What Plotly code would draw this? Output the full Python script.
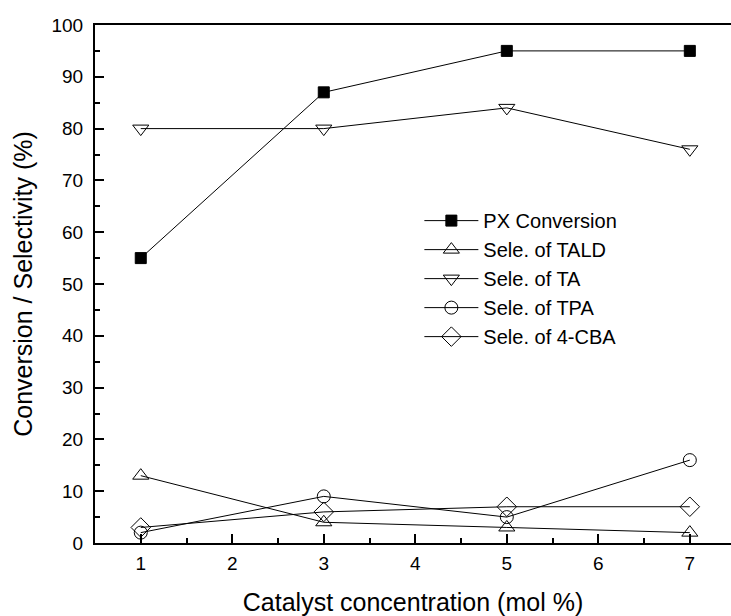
import plotly.graph_objects as go

conc = [1, 3, 5, 7]
px_conv = [55, 87, 95, 95]
sel_tald = [13, 4, 3, 2]
sel_ta = [80, 80, 84, 76]
sel_tpa = [2, 9, 5, 16]
sel_cba = [3, 6, 7, 7]

names = ["PX Conversion", "Sele. of TALD", "Sele. of TA", "Sele. of TPA", "Sele. of 4-CBA"]
series = [px_conv, sel_tald, sel_ta, sel_tpa, sel_cba]
symbols = ["square", "triangle-up-open", "triangle-down-open", "circle-open", "diamond-open"]
sizes = [11, 14, 14, 13, 15]

FONT = "Arial, Liberation Sans, sans-serif"

fig = go.Figure()
for n, s, sym, sz in zip(names, series, symbols, sizes):
    fig.add_trace(go.Scatter(
        x=conc, y=s, name=n, mode="lines+markers",
        line=dict(color="black", width=1),
        marker=dict(symbol=sym, size=sz, color="black",
                    line=dict(color="black", width=1)),
        cliponaxis=False,
    ))

fig.update_layout(
    width=731, height=616,
    margin=dict(l=95, r=0, t=25, b=73),
    plot_bgcolor="white", paper_bgcolor="white",
    font=dict(family=FONT, color="black", size=19),
    legend=dict(x=0.51, y=0.66, xanchor="left", yanchor="top",
                bgcolor="rgba(0,0,0,0)", font=dict(size=20), tracegroupgap=0,
                itemwidth=54),
    showlegend=True,
)

fig.update_xaxes(
    range=[0.5, 7.45], tickmode="linear", tick0=1, dtick=1,
    ticks="inside", ticklen=9, tickwidth=1.5, tickcolor="black",
    minor=dict(ticks="inside", ticklen=5, tickwidth=1.5, dtick=0.5, tick0=0.5, tickcolor="black"),
    showline=True, linecolor="black", linewidth=2, mirror=True,
    showgrid=False, zeroline=False,
    tickfont=dict(size=19), ticklabelstandoff=2,
    title=dict(text="Catalyst concentration (mol %)", font=dict(size=25), standoff=22),
)
fig.update_yaxes(
    range=[0, 100], tickmode="linear", tick0=0, dtick=10,
    ticks="inside", ticklen=9, tickwidth=1.5, tickcolor="black",
    minor=dict(ticks="inside", ticklen=5, tickwidth=1.5, dtick=5, tickcolor="black"),
    showline=True, linecolor="black", linewidth=2,
    showgrid=False, zeroline=False,
    tickfont=dict(size=19), ticklabelstandoff=6,
    title=dict(text="Conversion / Selectivity (%)", font=dict(size=25), standoff=12),
)

fig.write_html("out.html")
